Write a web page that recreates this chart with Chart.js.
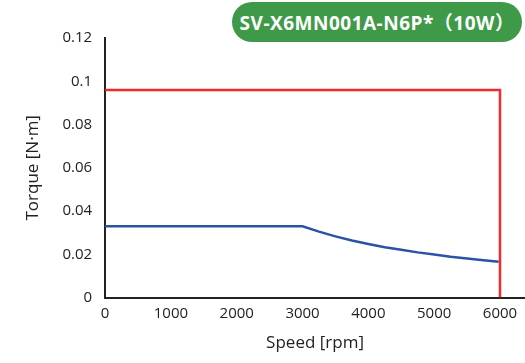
<!DOCTYPE html>
<html><head><meta charset="utf-8">
<script src="https://cdn.jsdelivr.net/npm/chart.js@4"></script>
<style>
html,body{margin:0;padding:0;background:#fff;}
#wrap{position:relative;width:525px;height:363px;}
#badge{position:absolute;left:232px;top:2px;width:290px;height:40px;border-radius:20px;background:#3e9a48;color:#fff;font:bold 19px "Open Sans","Noto Sans CJK SC",sans-serif;display:flex;align-items:center;justify-content:center;letter-spacing:0.5px;}
</style></head>
<body><div id="wrap"><canvas id="c" width="525" height="363"></canvas><div id="badge">SV-X6MN001A-N6P*（10W）</div></div>
<script>
const title = "SV-X6MN001A-N6P*（10W）";
const xTitle = "Speed [rpm]";
const yTitle = "Torque [N·m]";
// Peak torque envelope (red)
const peakSpeed = [0, 6000, 6000];
const peakTorque = [0.096, 0.096, 0];
// Rated torque curve (blue)
const ratedSpeed = [0, 3000, 3250, 3500, 3750, 4000, 4250, 4500, 4750, 5000, 5250, 5500, 5750, 5980];
const ratedTorque = [0.033, 0.033, 0.0305, 0.0283, 0.0264, 0.0248, 0.0233, 0.0221, 0.0209, 0.0199, 0.0189, 0.0181, 0.0173, 0.0166];
const xTicks = [0, 1000, 2000, 3000, 4000, 5000, 6000];
const yTicks = [0, 0.02, 0.04, 0.06, 0.08, 0.1, 0.12];

const toPts = (xs, ys) => xs.map((x, i) => ({x, y: ys[i]}));
const font = {family: "'Open Sans', sans-serif", size: 15};
new Chart(document.getElementById('c'), {
  type: 'scatter',
  data: {datasets: [
    {data: toPts(peakSpeed, peakTorque), showLine: true, borderColor: '#ef2b2d', borderWidth: 2.5, pointRadius: 0, tension: 0},
    {data: toPts(ratedSpeed, ratedTorque), showLine: true, borderColor: '#2a53a6', borderWidth: 2.5, pointRadius: 0, tension: 0}
  ]},
  options: {
    responsive: false, animation: false,
    layout: {padding: {top: 38, right: 0, left: 19, bottom: 10}},
    plugins: {legend: {display: false}, tooltip: {enabled: false}},
    scales: {
      x: {type: 'linear', min: 0, max: 6380,
        afterBuildTicks: s => { s.ticks = xTicks.map(v => ({value: v})); },
        grid: {display: false, drawTicks: false},
        border: {display: true, color: '#222', width: 2},
        ticks: {font, color: '#222', padding: 7, maxRotation: 0, callback: v => String(v)},
        title: {display: true, text: xTitle, font: {family: "'Open Sans', sans-serif", size: 17}, color: '#222', padding: {top: 3, bottom: 0}}
      },
      y: {min: 0, max: 0.12,
        afterBuildTicks: s => { s.ticks = yTicks.map(v => ({value: v})); },
        grid: {display: false, drawTicks: false},
        border: {display: true, color: '#222', width: 2},
        ticks: {font, color: '#222', padding: 13, callback: v => String(+v.toFixed(2))},
        title: {display: true, text: yTitle, font: {family: "'Open Sans', sans-serif", size: 17}, color: '#222', padding: {bottom: 6}}
      }
    }
  }
});
</script></body></html>
